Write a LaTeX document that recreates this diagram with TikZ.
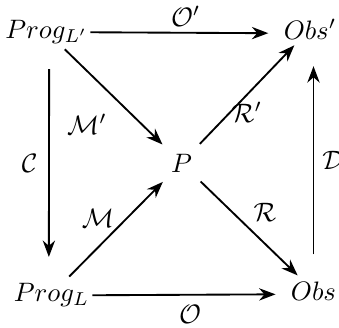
\documentclass[tikz,border=0pt]{standalone}
\usetikzlibrary{arrows.meta}
\begin{document}
\begin{tikzpicture}[
		x=0.375pt, y=-0.375pt,
		>=Stealth,
		obj/.style={inner sep=0pt, anchor=base},
		arr/.style={->, line width=0.7pt},
		lbl/.style={inner sep=0pt},
	]
		\useasboundingbox (0,0) rectangle (339,327);

		% Corners and centre
		\node[obj] (progp) at (46.5,38) {$Prog_{L'}$};
		\node[obj] (obsp)  at (310,39)  {$Obs'$};
		\node[obj] (prog)  at (51.5,301) {$Prog_{L}$};
		\node[obj] (obs)   at (313.5,300) {$Obs$};
		\node[circle, minimum size=19.5pt, inner sep=0pt] (p) at (181.5,163) {$P$};

		% Outer square
		\draw[arr, shorten <=0.8pt, shorten >=5.6pt] (progp.mid east) -- node[lbl, above=2pt] {$\mathcal{O}'$} (obsp.mid west);
		\draw[arr, shorten <=1pt, shorten >=5.6pt] (prog.mid east) -- node[lbl, below=3.5pt] {$\mathcal{O}$} (obs.mid west);
		\draw[arr, shorten <=9.5pt, shorten >=9.5pt] ([xshift=1pt]progp.south) -- node[lbl, left=4pt] {$\mathcal{C}$} ([xshift=-1pt]prog.north);
		\draw[arr, shorten <=10pt, shorten >=10pt] (obs.north) -- node[lbl, right=3pt] {$\mathcal{D}$} (obs.north |- obsp.south);

		% Diagonals through P
		\draw[arr, shorten <=3pt] (progp) -- (p);
		\draw[arr, shorten <=3pt] (prog) -- (p);
		\draw[arr, shorten >=3pt] (p) -- (obsp);
		\draw[arr, shorten >=3pt] (p) -- (obs);

		% Labels of the diagonals
		\node[lbl] (mp) at (87,124) {$\mathcal{M}'$};
		\node[lbl] (m)  at (98,218) {$\mathcal{M}$};
		\node[lbl] (rp) at (247,112) {$\mathcal{R}'$};
		\node[lbl] (r)  at (265,212) {$\mathcal{R}$};
	\end{tikzpicture}
\end{document}
